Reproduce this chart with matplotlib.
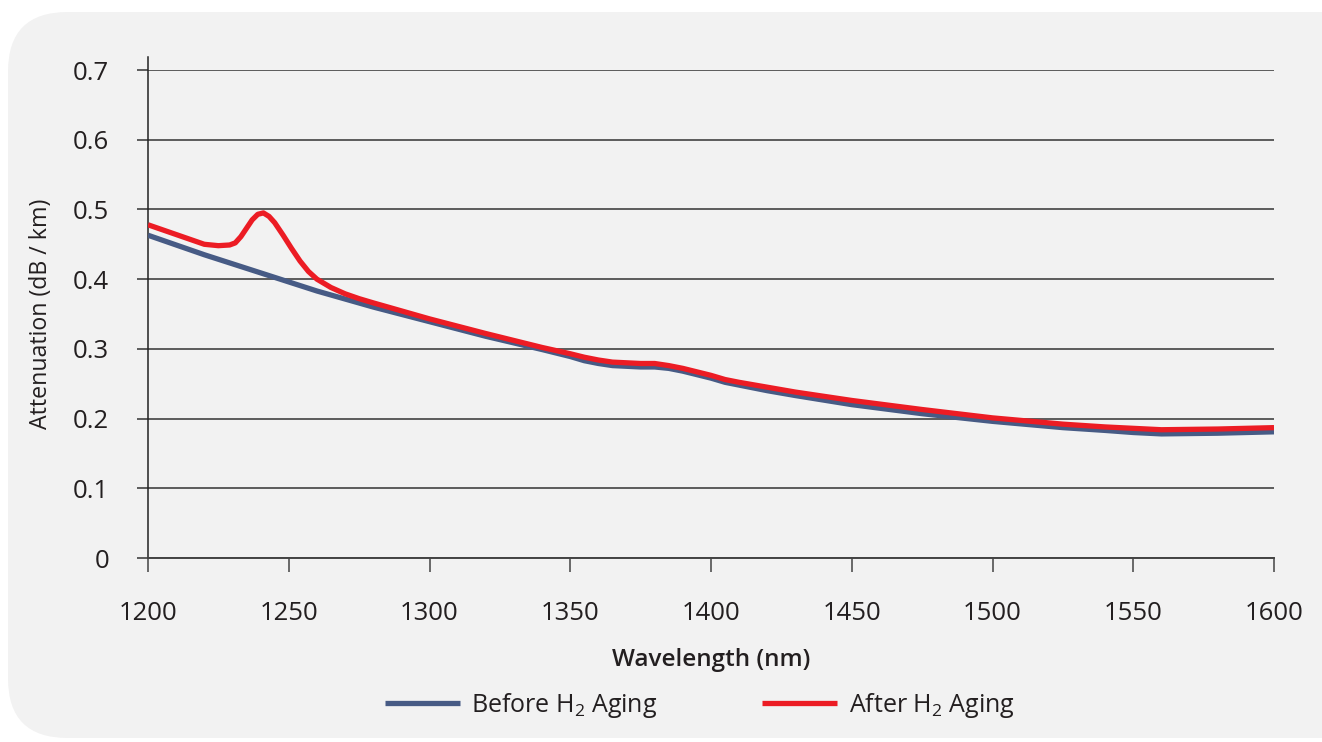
import numpy as np
import matplotlib
matplotlib.use('Agg')
import matplotlib.pyplot as plt
from matplotlib.patches import FancyBboxPatch

plt.rcParams['font.family'] = ['Open Sans', 'DejaVu Sans']
plt.rcParams['mathtext.fontset'] = 'custom'
plt.rcParams['mathtext.rm'] = 'Open Sans'

# wavelength (nm) and attenuation (dB/km)
wl_before = [1200, 1220, 1240, 1260, 1280, 1300, 1320, 1340, 1350, 1355, 1360,
             1365, 1370, 1375, 1380, 1385, 1390, 1395, 1400, 1405, 1410, 1420,
             1430, 1450, 1475, 1500, 1525, 1540, 1550, 1560, 1580, 1600]
att_before = [0.463, 0.435, 0.409, 0.383, 0.360, 0.339, 0.318, 0.299, 0.289,
              0.283, 0.279, 0.276, 0.275, 0.274, 0.274, 0.272, 0.268, 0.263,
              0.258, 0.252, 0.248, 0.240, 0.233, 0.220, 0.207, 0.196, 0.187,
              0.183, 0.180, 0.178, 0.179, 0.181]

wl_after = [1200, 1205, 1210, 1215, 1220, 1225, 1229, 1231, 1233, 1235, 1237,
            1239, 1241, 1243, 1245, 1248, 1251, 1254, 1257, 1260, 1265, 1270,
            1275, 1280, 1300, 1320, 1340, 1350, 1355, 1360, 1365, 1370, 1375,
            1380, 1385, 1390, 1395, 1400, 1405, 1410, 1420, 1430, 1450, 1475,
            1500, 1525, 1540, 1550, 1560, 1580, 1600]
att_after = [0.478, 0.471, 0.464, 0.457, 0.450, 0.448, 0.449, 0.452, 0.461,
             0.473, 0.485, 0.493, 0.495, 0.490, 0.481, 0.463, 0.444, 0.426,
             0.411, 0.400, 0.388, 0.379, 0.372, 0.366, 0.343, 0.322, 0.302,
             0.293, 0.288, 0.284, 0.281, 0.280, 0.279, 0.279, 0.276, 0.272,
             0.267, 0.262, 0.256, 0.252, 0.245, 0.238, 0.226, 0.213, 0.201,
             0.192, 0.188, 0.186, 0.184, 0.185, 0.187]

x_ticks = [1200, 1250, 1300, 1350, 1400, 1450, 1500, 1550, 1600]
y_ticks = [0, 0.1, 0.2, 0.3, 0.4, 0.5, 0.6, 0.7]
y_labels = ['0', '0.1', '0.2', '0.3', '0.4', '0.5', '0.6', '0.7']

W, H = 1322, 742
fig = plt.figure(figsize=(W / 100, H / 100), dpi=100)
fig.patch.set_facecolor('white')

panel = FancyBboxPatch((8 / W, 4 / H), 1.2, (H - 16) / H,
                       boxstyle='round,pad=0,rounding_size=0.045',
                       transform=fig.transFigure, facecolor='#f2f2f2',
                       edgecolor='none', zorder=-5, mutation_aspect=W / H)
fig.patches.append(panel)

ax = fig.add_axes([148 / W, 1 - 558 / H, (1274 - 148) / W, (558 - 70) / H])
ax.set_facecolor('none')
ax.set_zorder(2)

ax.plot(wl_before, att_before, color='#475b85', lw=3.8, solid_joinstyle='round',
        solid_capstyle='butt', label='Before H$_2$ Aging', zorder=3)
ax.plot(wl_after, att_after, color='#ec1c24', lw=3.8, solid_joinstyle='round',
        solid_capstyle='butt', label='After H$_2$ Aging', zorder=4)

ax.set_xlim(1200, 1600)
ax.set_ylim(0, 0.7)
ax.set_xticks(x_ticks)
ax.set_yticks(y_ticks)
ax.set_yticklabels(y_labels)
ax.yaxis.grid(True, color='#333333', lw=1.1, zorder=1)
ax.set_axisbelow(True)

for s in ['top', 'right']:
    ax.spines[s].set_visible(False)
ax.spines['left'].set_color('#222222')
ax.spines['left'].set_linewidth(1.1)
ax.spines['left'].set_bounds(0, 0.718)
ax.spines['bottom'].set_color('#444444')
ax.spines['bottom'].set_linewidth(1.4)

ax.tick_params(axis='y', length=8, width=1.1, color='#333333', pad=20,
               labelsize=18.5, labelcolor='#231f20')
ax.tick_params(axis='x', length=10, width=1.1, color='#444444', pad=21,
               labelsize=18.5, labelcolor='#231f20')

ax.set_xlabel('Wavelength (nm)', fontsize=17.5, fontweight='semibold',
              color='#231f20', labelpad=16)
ax.set_ylabel('Attenuation (dB / km)', fontsize=16.7, color='#231f20',
              labelpad=14)

leg = ax.legend(loc='upper center', bbox_to_anchor=(0.49, -0.226), ncol=2,
                frameon=False, fontsize=18, handlelength=3.0,
                columnspacing=4.2, handletextpad=0.45, labelcolor='#231f20')

fig.savefig('out.png', dpi=100, facecolor='white')
